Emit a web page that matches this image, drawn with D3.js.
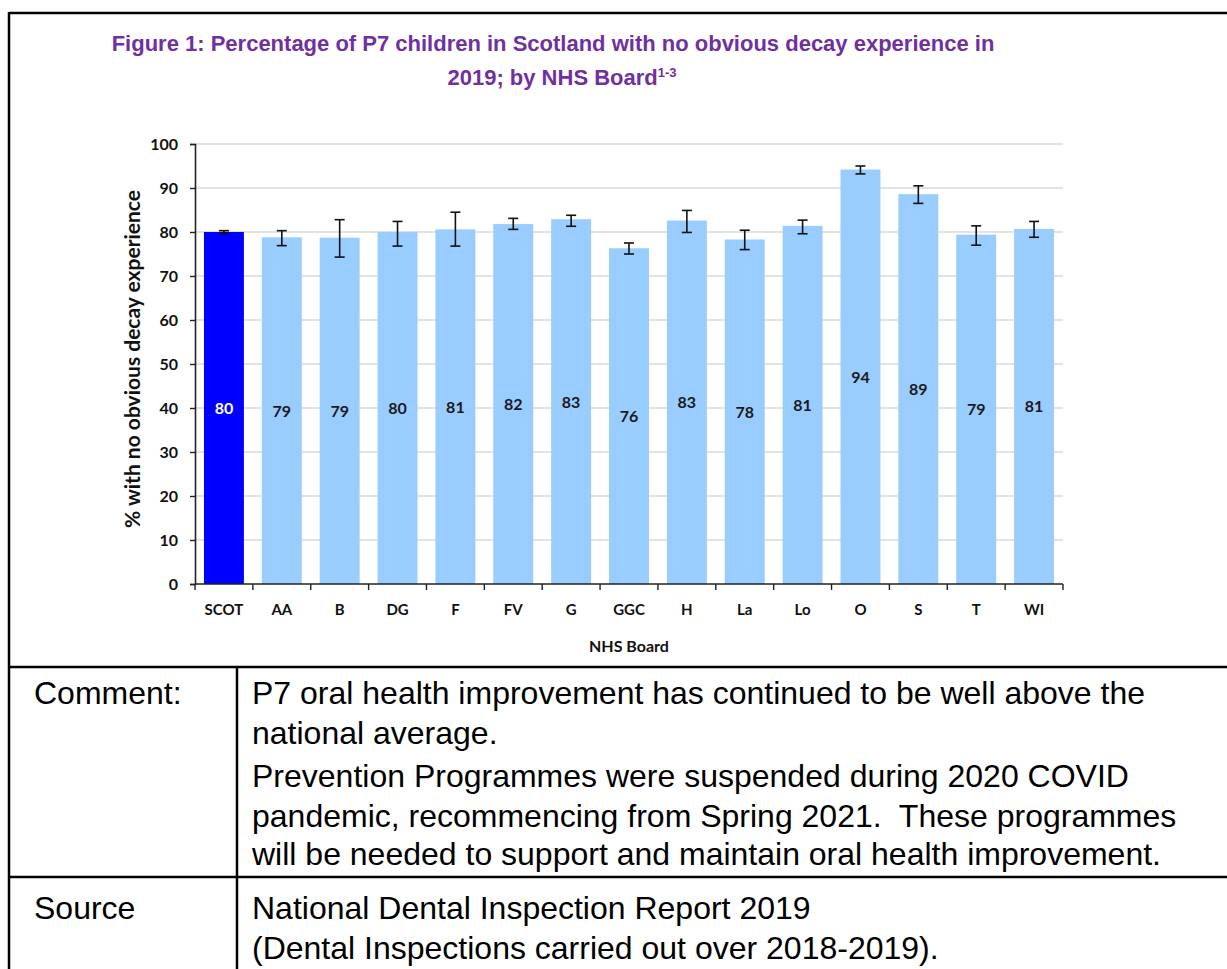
<!DOCTYPE html>
<html>
<head>
<meta charset="utf-8">
<script src="https://cdn.jsdelivr.net/npm/d3@7"></script>
<style>
  html, body { margin: 0; padding: 0; background: #fff; }
  svg { display: block; }
</style>
</head>
<body>
<svg id="page" width="1227" height="969"></svg>
<script>
// data
const boards = ["SCOT", "AA", "B", "DG", "F", "FV", "G", "GGC", "H", "La", "Lo", "O", "S", "T", "WI"];
const pctNoDecay = [80.0, 78.8, 78.7, 80.0, 80.6, 81.8, 82.9, 76.3, 82.6, 78.3, 81.4, 94.2, 88.6, 79.4, 80.7];
const ciLower = [79.7, 76.9, 74.3, 76.8, 76.8, 80.6, 81.3, 75.0, 79.9, 76.0, 79.6, 93.2, 86.5, 77.0, 78.8];
const ciUpper = [80.3, 80.3, 82.8, 82.4, 84.5, 83.1, 83.8, 77.5, 84.9, 80.4, 82.7, 95.0, 90.5, 81.4, 82.4];
const yTicks = [0, 10, 20, 30, 40, 50, 60, 70, 80, 90, 100];

const commentLines = [
  "P7 oral health improvement has continued to be well above the",
  "national average.",
  "Prevention Programmes were suspended during 2020 COVID",
  "pandemic, recommencing from Spring 2021.\u00a0 These programmes",
  "will be needed to support and maintain oral health improvement."
];
const sourceLines = [
  "National Dental Inspection Report 2019",
  "(Dental Inspections carried out over 2018-2019)."
];

const rows = boards.map((b, i) => ({
  board: b, value: pctNoDecay[i], lo: ciLower[i], hi: ciUpper[i], national: i === 0
}));

const svg = d3.select("#page");
const chartFont = "Lato, 'Open Sans', sans-serif";
const tableFont = "'Liberation Sans', Arial, sans-serif";

// outer frame and table rules
const frame = svg.append("g").attr("stroke", "#000").attr("stroke-width", 2.5);
frame.append("line").attr("x1", 9).attr("y1", 13).attr("x2", 1227).attr("y2", 13);
frame.append("line").attr("x1", 9).attr("y1", 12).attr("x2", 9).attr("y2", 969);
frame.append("line").attr("x1", 9).attr("y1", 667).attr("x2", 1227).attr("y2", 667);
frame.append("line").attr("x1", 9).attr("y1", 877).attr("x2", 1227).attr("y2", 877);
frame.append("line").attr("x1", 237).attr("y1", 667).attr("x2", 237).attr("y2", 969);

// title
const title = svg.append("text")
  .attr("text-anchor", "middle")
  .style("font-family", tableFont)
  .style("font-weight", "bold")
  .style("font-size", "22px")
  .style("fill", "#7030a0");
title.append("tspan").attr("x", 553).attr("y", 51)
  .text("Figure 1: Percentage of P7 children in Scotland with no obvious decay experience in");
const t2 = title.append("tspan").attr("x", 562).attr("y", 85).text("2019; by NHS Board");
t2.append("tspan").attr("dy", -8).style("font-size", "13px").text("1-3");

// chart
const margin = { left: 195, right: 1063, top: 144, bottom: 584 };
const x = d3.scaleBand()
  .domain(boards)
  .range([margin.left, margin.right])
  .paddingInner(0.31)
  .paddingOuter(0.155);
const y = d3.scaleLinear().domain([0, 100]).range([margin.bottom, margin.top]);

const g = svg.append("g");

// gridlines
g.append("g")
  .selectAll("line")
  .data(yTicks.filter(t => t > 0))
  .join("line")
  .attr("x1", margin.left).attr("x2", margin.right)
  .attr("y1", d => y(d)).attr("y2", d => y(d))
  .attr("stroke", "#c8c8c8")
  .attr("stroke-width", 1.2);

// bars
g.append("g")
  .selectAll("rect")
  .data(rows)
  .join("rect")
  .attr("x", d => x(d.board))
  .attr("y", d => y(d.value))
  .attr("width", x.bandwidth())
  .attr("height", d => y(0) - y(d.value))
  .style("fill", d => d.national ? "#0000ff" : "#99ccff");

// error bars
const err = g.append("g").attr("stroke", "#111").attr("stroke-width", 1.6);
rows.forEach(d => {
  let cx = x(d.board) + x.bandwidth() / 2;
  err.append("line").attr("x1", cx).attr("x2", cx).attr("y1", y(d.lo)).attr("y2", y(d.hi));
  err.append("line").attr("x1", cx - 5).attr("x2", cx + 5).attr("y1", y(d.lo)).attr("y2", y(d.lo));
  err.append("line").attr("x1", cx - 5).attr("x2", cx + 5).attr("y1", y(d.hi)).attr("y2", y(d.hi));
});

// data labels in the middle of each bar
g.append("g")
  .selectAll("text")
  .data(rows)
  .join("text")
  .attr("x", d => x(d.board) + x.bandwidth() / 2)
  .attr("y", d => y(d.value / 2) + 6)
  .attr("text-anchor", "middle")
  .style("font-family", chartFont)
  .style("font-weight", "bold")
  .style("font-size", "16px")
  .style("fill", d => d.national ? "#fff" : "#1a1a1a")
  .text(d => Math.round(d.value));

// y axis
const yAxis = g.append("g")
  .attr("transform", `translate(${margin.left},0)`)
  .call(d3.axisLeft(y).tickValues(yTicks).tickSize(5).tickPadding(12));
yAxis.select(".domain").attr("stroke", "#222").attr("stroke-width", 1.6);
yAxis.selectAll(".tick line").attr("stroke", "#222").attr("stroke-width", 1.4);
yAxis.selectAll(".tick text")
  .style("font-family", chartFont)
  .style("font-weight", "bold")
  .style("font-size", "16px")
  .style("fill", "#111");

// x axis with ticks between categories
const xAxisG = g.append("g").attr("transform", `translate(0,${margin.bottom})`);
xAxisG.append("line")
  .attr("x1", margin.left).attr("x2", margin.right)
  .attr("stroke", "#222").attr("stroke-width", 1.6);
const step = x.step();
xAxisG.selectAll(".sep")
  .data(d3.range(boards.length + 1))
  .join("line")
  .attr("class", "sep")
  .attr("x1", i => margin.left + i * step).attr("x2", i => margin.left + i * step)
  .attr("y1", 0).attr("y2", 6)
  .attr("stroke", "#222").attr("stroke-width", 1.4);
xAxisG.selectAll(".lbl")
  .data(boards)
  .join("text")
  .attr("class", "lbl")
  .attr("x", d => x(d) + x.bandwidth() / 2)
  .attr("y", 31)
  .attr("text-anchor", "middle")
  .style("font-family", chartFont)
  .style("font-weight", "bold")
  .style("font-size", "15px")
  .style("fill", "#111")
  .text(d => d);

// axis titles
svg.append("text")
  .attr("transform", `translate(140,${(margin.top + margin.bottom) / 2 - 5}) rotate(-90)`)
  .attr("text-anchor", "middle")
  .style("font-family", chartFont)
  .style("font-weight", "bold")
  .style("font-size", "21px")
  .style("fill", "#111")
  .text("% with no obvious decay experience");

svg.append("text")
  .attr("x", (margin.left + margin.right) / 2)
  .attr("y", 652)
  .attr("text-anchor", "middle")
  .style("font-family", chartFont)
  .style("font-weight", "bold")
  .style("font-size", "16px")
  .style("fill", "#111")
  .text("NHS Board");

// table text
const tbl = svg.append("g")
  .style("font-family", tableFont)
  .style("font-size", "32px")
  .style("fill", "#000");
tbl.append("text").attr("x", 34).attr("y", 704).text("Comment:");
tbl.append("text").attr("x", 34).attr("y", 919).text("Source");
const commentY = [704, 744, 787, 827, 865];
tbl.selectAll(".c")
  .data(commentLines)
  .join("text")
  .attr("class", "c")
  .attr("x", 252)
  .attr("y", (d, i) => commentY[i])
  .text(d => d);
const sourceY = [919, 959];
tbl.selectAll(".s")
  .data(sourceLines)
  .join("text")
  .attr("class", "s")
  .attr("x", 252)
  .attr("y", (d, i) => sourceY[i])
  .text(d => d);
</script>
</body>
</html>
